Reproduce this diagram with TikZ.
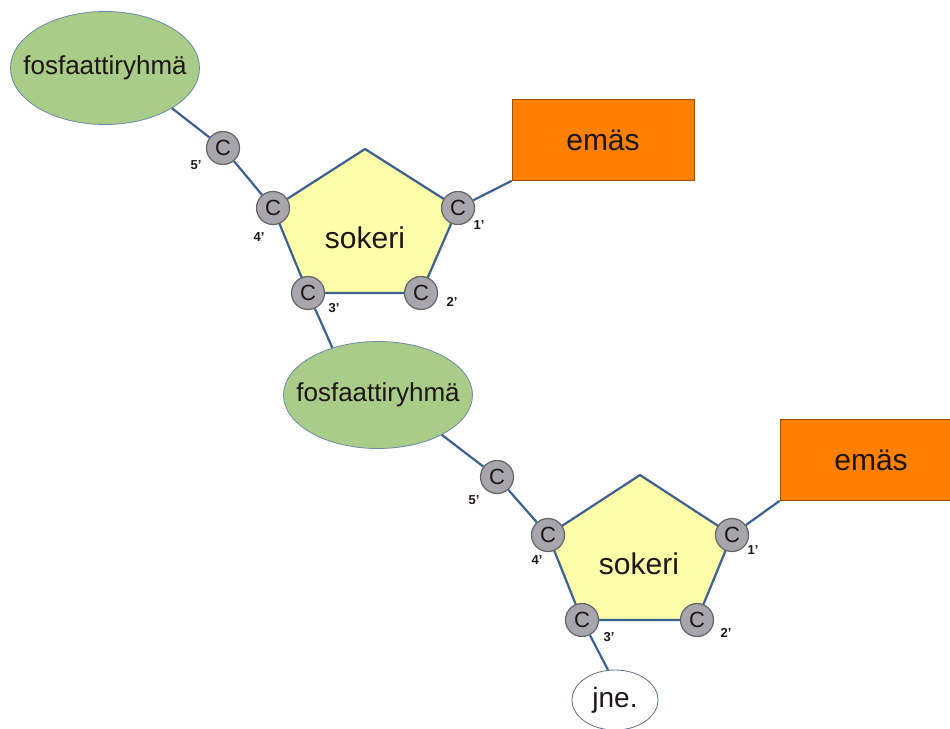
\documentclass[tikz,border=0pt]{standalone}
\usepackage{fontspec}
\setmainfont{Liberation Sans}
\usepackage{xcolor}
\definecolor{dnaBlue}{RGB}{62, 96, 145}
\definecolor{dnaGreen}{RGB}{169, 204, 137}
\definecolor{dnaYellow}{RGB}{255, 255, 170}
\definecolor{dnaOrange}{RGB}{255, 128, 0}
\definecolor{dnaGrey}{RGB}{166, 166, 172}
\definecolor{dnaText}{RGB}{30, 22, 22}
\usepackage{tikz}
\usetikzlibrary{
    shapes.geometric,
    backgrounds,
    positioning
}

\begin{document}
\begin{tikzpicture}[
    x=1pt, y=-1pt,
    phosGroup/.style={
        ellipse, draw=dnaBlue!75, line width=0.8pt,
        fill=dnaGreen, text=dnaText, inner xsep=-20pt, inner ysep=0pt,
        minimum width=189pt, minimum height=110pt,
        font=\fontsize{26}{30}\selectfont
    },
    sugarRing/.style={
        draw=dnaBlue, line width=2.2pt, fill=dnaYellow, line join=round
    },
    sugarText/.style={
        text=dnaText, font=\fontsize{30}{34}\selectfont
    },
    baseBox/.style={
        rectangle, draw=dnaOrange!60!black, line width=0.6pt,
        fill=dnaOrange, text=dnaText,
        minimum width=182pt, minimum height=81pt,
        font=\fontsize{30}{34}\selectfont
    },
    carbonAtom/.style={
        circle, draw=dnaGrey!60!black, line width=1.2pt,
        fill=dnaGrey, text=dnaText, inner sep=0pt, minimum size=33pt,
        font=\fontsize{22}{24}\selectfont
    },
    primeLabel/.style={
        text=dnaText, inner sep=0pt, font=\fontsize{13}{15}\selectfont\bfseries
    },
    bondLine/.style={
        draw=dnaBlue, line width=2.2pt
    },
    etcBubble/.style={
        ellipse, draw=dnaBlue!55!gray, line width=0.8pt, fill=white,
        text=dnaText, inner sep=0pt, minimum width=86pt, minimum height=60pt,
        font=\fontsize{28}{32}\selectfont
    }
]
    \clip (0, 0) rectangle (950, 728);

    % Ensimmainen nukleotidi
    \node[phosGroup, minimum height=113pt] (phosA) at (105, 68) {fosfaattiryhmä};
    \node[baseBox] (baseA) at (603, 140) {emäs};
    \coordinate (topA) at (365, 149);
    \node[carbonAtom] (cFiveA) at (223, 148) {C};
    \node[carbonAtom] (cFourA) at (273, 208) {C};
    \node[carbonAtom] (cOneA) at (458, 208) {C};
    \node[carbonAtom] (cThreeA) at (308, 293) {C};
    \node[carbonAtom] (cTwoA) at (421, 293) {C};
    \node[sugarText] (sugarA) at (365, 238) {sokeri};

    \node[primeLabel] (pFiveA) at (196, 165) {5’};
    \node[primeLabel] (pFourA) at (259, 237) {4’};
    \node[primeLabel] (pOneA) at (479, 225) {1’};
    \node[primeLabel] (pThreeA) at (334, 308) {3’};
    \node[primeLabel] (pTwoA) at (452, 302) {2’};

    % Toinen nukleotidi
    \node[phosGroup, minimum height=107pt] (phosB) at (378, 395) {fosfaattiryhmä};
    \node[baseBox] (baseB) at (871, 460) {emäs};
    \coordinate (topB) at (640, 475);
    \node[carbonAtom] (cFiveB) at (497, 477) {C};
    \node[carbonAtom] (cFourB) at (548, 535) {C};
    \node[carbonAtom] (cOneB) at (732, 535) {C};
    \node[carbonAtom] (cThreeB) at (582, 620) {C};
    \node[carbonAtom] (cTwoB) at (697, 620) {C};
    \node[sugarText] (sugarB) at (639, 564) {sokeri};

    \node[primeLabel] (pFiveB) at (474, 500) {5’};
    \node[primeLabel] (pFourB) at (537, 560) {4’};
    \node[primeLabel] (pOneB) at (753, 550) {1’};
    \node[primeLabel] (pThreeB) at (609, 637) {3’};
    \node[primeLabel] (pTwoB) at (726, 633) {2’};

    \node[etcBubble] (etc) at (615, 700) {jne.};

    % Sokerirenkaat taustalle
    \begin{scope}[on background layer]
        \draw[sugarRing] (topA) -- (cOneA.center) -- (cTwoA.center)
            -- (cThreeA.center) -- (cFourA.center) -- cycle;
        \draw[sugarRing] (topB) -- (cOneB.center) -- (cTwoB.center)
            -- (cThreeB.center) -- (cFourB.center) -- cycle;
    \end{scope}

    % Sidokset
    \draw[bondLine] (phosA.-31) -- (cFiveA);
    \draw[bondLine] (cFiveA) -- (cFourA);
    \draw[bondLine] (cOneA) -- (baseA.south west);
    \draw[bondLine] (cThreeA) -- (phosB.134);
    \draw[bondLine] (phosB.-32) -- (cFiveB);
    \draw[bondLine] (cFiveB) -- (cFourB);
    \draw[bondLine] (cOneB) -- (baseB.south west);
    \draw[bondLine] (cThreeB) -- (etc.103);

\end{tikzpicture}
\end{document}
